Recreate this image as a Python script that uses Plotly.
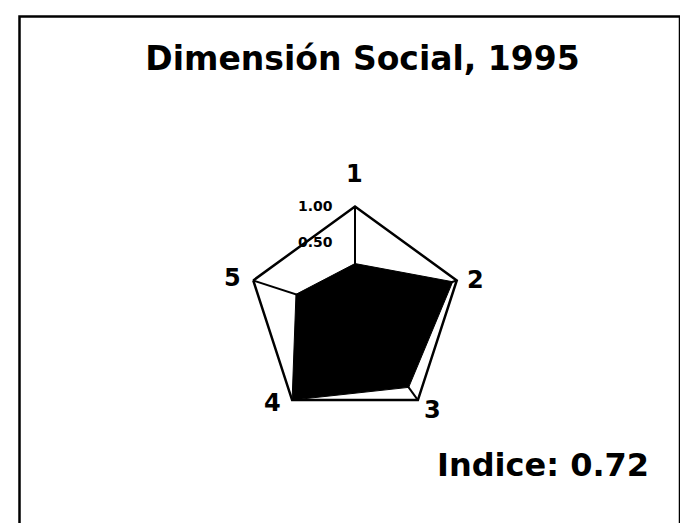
import plotly.graph_objects as go

categories = ["1", "2", "3", "4", "5"]
values = [0.20, 0.94, 0.78, 1.00, 0.37]
radial_range = [-0.5, 1.0]
tick_vals = [0.5, 1.0]
tick_text = ["0.50", "1.00"]
title_text = "Dimensión Social, 1995"
index_text = "Indice: 0.72"

W, H = 688, 523
OFF = 8  # page body margin


def px(x):
    return (x - OFF) / W


def py(y):
    return 1 - (y - OFF) / H


cx, cy, R = 355, 313.5, 107

fig = go.Figure()
fig.add_trace(go.Scatterpolar(
    r=values + [values[0]],
    theta=categories + [categories[0]],
    mode="lines",
    fill="toself",
    fillcolor="black",
    line=dict(color="black", width=1),
    showlegend=False,
    hoverinfo="skip",
))

FONT = "DejaVu Sans"

label_pos = {"1": (354, 174), "2": (475, 280), "3": (432, 410), "4": (272, 403), "5": (232, 278)}
annotations = [dict(text=c, xref="paper", yref="paper",
                    x=px(label_pos[c][0]), y=py(label_pos[c][1]),
                    xanchor="center", yanchor="middle", showarrow=False,
                    font=dict(family=FONT, size=24, color="black", weight="bold"))
               for c in categories]
annotations.append(dict(text=index_text, xref="paper", yref="paper",
                        x=px(651), xanchor="right", y=py(465), yanchor="middle",
                        showarrow=False,
                        font=dict(family=FONT, size=32, color="black", weight="bold")))

fig.update_layout(
    width=W, height=H,
    margin=dict(l=0, r=0, t=0, b=0),
    paper_bgcolor="white",
    plot_bgcolor="white",
    polar=dict(
        domain=dict(x=[px(cx - R), px(cx + R)],
                    y=[py(cy + R), py(cy - R)]),
        bgcolor="white",
        gridshape="linear",
        angularaxis=dict(
            direction="clockwise", rotation=90,
            showline=True, linecolor="black", linewidth=2.5,
            showgrid=True, gridcolor="black", gridwidth=2,
            ticks="", showticklabels=False,
            layer="below traces",
        ),
        radialaxis=dict(
            range=radial_range,
            angle=90, side="counterclockwise",
            showgrid=False, showline=False,
            ticks="outside", ticklen=17, tickcolor="rgba(0,0,0,0)",
            tickvals=tick_vals, ticktext=tick_text,
            tickfont=dict(family=FONT, size=14, color="black", weight="bold"),
            tickangle=90,
        ),
    ),
    title=dict(text=title_text, x=px(362.5), xanchor="center",
               y=py(58), yanchor="middle",
               font=dict(family=FONT, size=33, color="black", weight="bold")),
    annotations=annotations,
    shapes=[dict(type="rect", xref="paper", yref="paper",
                 x0=px(19.5), x1=px(680), y0=-0.05, y1=py(16.5),
                 line=dict(color="black", width=2.5))],
)

fig.write_html("out.html")
